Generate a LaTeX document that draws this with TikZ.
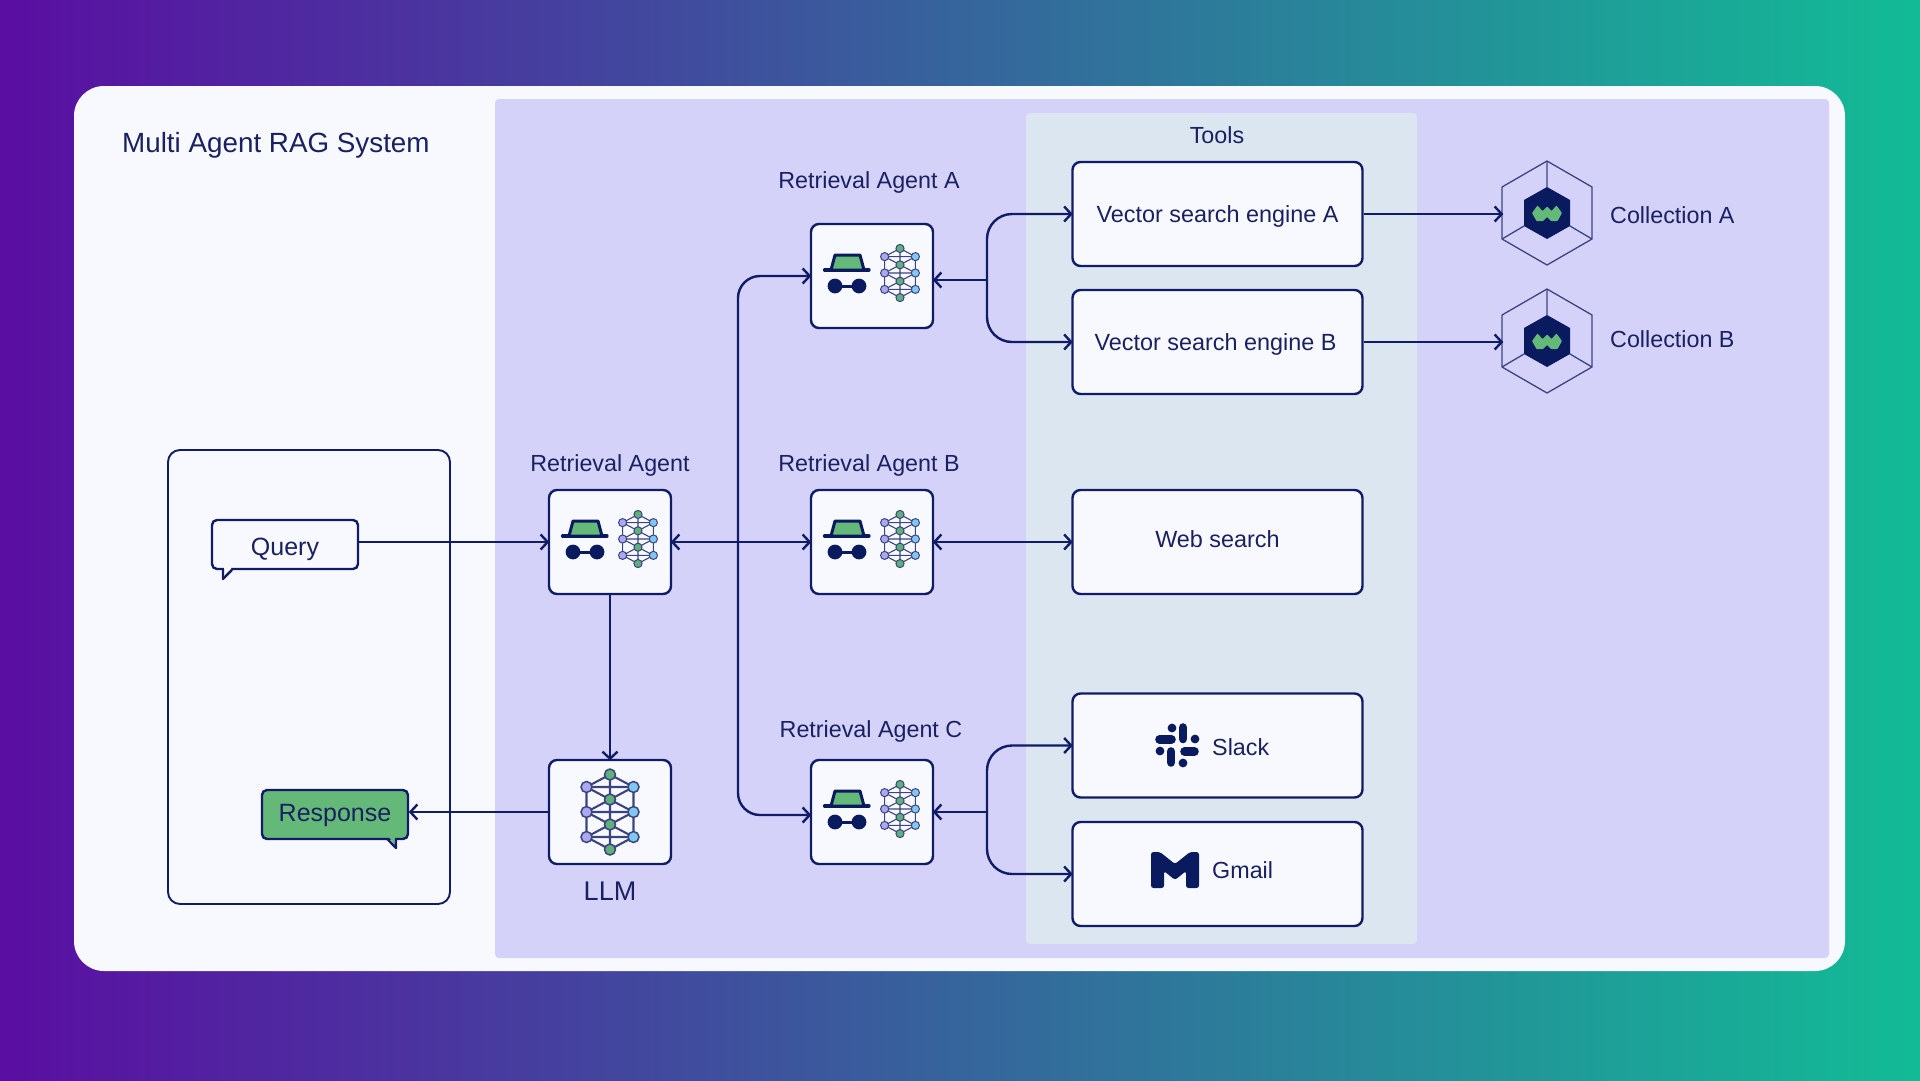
\documentclass[tikz,border=0pt]{standalone}
\usepackage{fontspec}
\setmainfont{Liberation Sans}
\usetikzlibrary{arrows.meta}
\definecolor{navy}{HTML}{111C66}
\definecolor{ink}{HTML}{1A2160}
\definecolor{deep}{HTML}{0A1A5E}
\definecolor{panel}{HTML}{F8F9FE}
\definecolor{lav}{HTML}{D5D2FA}
\definecolor{toolbg}{HTML}{DCE6F0}
\definecolor{grn}{HTML}{64B878}
\definecolor{np}{HTML}{ABA8F0}
\definecolor{nb}{HTML}{80C8F0}
\definecolor{ng}{HTML}{60B07C}
\definecolor{netl}{HTML}{3C4480}
\definecolor{bgl}{HTML}{5A0EA2}
\definecolor{bgm}{HTML}{39609F}
\definecolor{bgr}{HTML}{12BB96}
\newcommand{\bl}[2]{\raisebox{-#1pt}[0pt][0pt]{#2}}
\tikzset{
  x=1pt,y=-1pt,
  conn/.style={draw=navy,line width=2.4pt,shorten >=-1.5pt,arrows={-Straight Barb[length=7pt,width=15pt,line width=2.4pt]}},
  conn2/.style={draw=navy,line width=2.4pt,shorten >=-1.5pt,shorten <=-1.5pt,arrows={Straight Barb[length=7pt,width=15pt,line width=2.4pt]-Straight Barb[length=7pt,width=15pt,line width=2.4pt]}},
  plainconn/.style={draw=navy,line width=1.9pt},
  box/.style={draw=navy,line width=2.4pt,fill=panel,rounded corners=8pt,inner sep=0pt,text=ink,font=\fontsize{23.4}{27}\selectfont},
  agentbox/.style={box,minimum width=122pt,minimum height=104pt},
  toolbox/.style={box,minimum width=290pt,minimum height=104pt},
  bubble/.style={box,rounded corners=5pt,minimum width=146pt,minimum height=49pt},
  lbl/.style={inner sep=0pt,text=ink,font=\fontsize{23.3}{27}\selectfont},
  hexline/.style={draw=netl,line width=1.3pt,line join=round},
  agentglyph/.pic={
    \draw[deep,line width=3.2pt,line cap=round] (-47.5,-6) -- (-3,-6);
    \filldraw[fill=grn,draw=deep,line width=3pt,line join=round] (-37,-21) -- (-12,-21) -- (-8,-6) -- (-41,-6) -- cycle;
    \fill[deep] (-37,10) circle[radius=7.4];
    \fill[deep] (-13,10) circle[radius=7.4];
    \fill[deep] (-37,8.5) rectangle (-13,11.5);
    \netw{28}{-3}{.655}{1.1pt}{1pt}{6.2}
  }
}
\newcommand{\netw}[6]{%
  \begin{scope}[shift={(#1,#2)},scale=#3]
    \coordinate (nl1) at (-23.5,-25); \coordinate (nl2) at (-23.5,0); \coordinate (nl3) at (-23.5,25);
    \coordinate (nr1) at (23.5,-25); \coordinate (nr2) at (23.5,0); \coordinate (nr3) at (23.5,25);
    \coordinate (nc1) at (0,-37.5); \coordinate (nc2) at (0,-12.5); \coordinate (nc3) at (0,12.5); \coordinate (nc4) at (0,37.5);
    \draw[netl,line width=#4] (nl1)--(nl2)--(nl3) (nr1)--(nr2)--(nr3) (nc1)--(nc2)--(nc3)--(nc4)
      (nl1)--(nr1) (nl2)--(nr2) (nl3)--(nr3)
      (nl1)--(nc1)--(nr1) (nl1)--(nc2)--(nr1) (nl2)--(nc2)--(nr2)
      (nl2)--(nc3)--(nr2) (nl3)--(nc3)--(nr3) (nl3)--(nc4)--(nr3);
    \foreach \p in {nl1,nl2,nl3}{\filldraw[fill=np,draw=netl,line width=#5] (\p) circle[radius=#6];}
    \foreach \p in {nr1,nr2,nr3}{\filldraw[fill=nb,draw=netl,line width=#5] (\p) circle[radius=#6];}
    \foreach \p in {nc1,nc2,nc3,nc4}{\filldraw[fill=ng,draw=netl,line width=#5] (\p) circle[radius=#6];}
  \end{scope}}
\newcommand{\hexlogo}[2]{%
  \begin{scope}[shift={(#1,#2)}]
    \draw[hexline] (0,-52) -- (45,-26) -- (45,26) -- (0,52) -- (-45,26) -- (-45,-26) -- cycle;
    \draw[hexline] (0,-52) -- (0,-26) (-45,26) -- (-23,13) (45,26) -- (23,13);
    \fill[deep] (0,-26) -- (23,-13) -- (23,13) -- (0,26) -- (-23,13) -- (-23,-13) -- cycle;
    \fill[grn,rounded corners=.6pt] (-15,0) -- (-9.5,-7.5) -- (-4.5,-2) -- (0,-6.5) -- (4.5,-2) -- (9.5,-7.5) -- (15,0) -- (10.5,8) -- (4,8) -- (0,4) -- (-4,8) -- (-10.5,8) -- cycle;
  \end{scope}}
\begin{document}
\begin{tikzpicture}
\useasboundingbox (0,0) rectangle (1920,1080);
\shade[left color=bgl,middle color=bgm,right color=bgr] (0,0) rectangle (1920,1080);
\fill[panel,rounded corners=30pt] (74,86) rectangle (1845,971);
\fill[lav,rounded corners=4pt] (495,99) rectangle (1829,958);
\fill[toolbg,rounded corners=4pt] (1026,113) rectangle (1417,944);
\draw[plainconn,rounded corners=12pt] (168,450) rectangle (450,904);

\node[lbl,anchor=west,font=\fontsize{27.8}{32}\selectfont] (title) at (122,145) {Multi Agent RAG System};
\node[lbl] (toolsl) at (1217,135.5) {Tools};
\node[lbl] (la) at (869,182) {Retrieval Agent A};
\node[lbl] (lm) at (610,465) {Retrieval Agent};
\node[lbl] (lb) at (869,465) {Retrieval Agent B};
\node[lbl] (lc) at (871,731) {Retrieval Agent C};
\node[lbl,font=\fontsize{27}{32}\selectfont] (ll) at (610,891) {LLM};

\node[agentbox] (ag) at (610,542) {};
\node[agentbox] (agA) at (872,276) {};
\node[agentbox] (agB) at (872,542) {};
\node[agentbox] (agC) at (872,812) {};
\node[agentbox] (llm) at (610,812) {};
\pic at (ag.center) {agentglyph};
\pic at (agA.center) {agentglyph};
\pic at (agB.center) {agentglyph};
\pic at (agC.center) {agentglyph};
\netw{610}{812}{1}{2.1pt}{1.5pt}{5.5}

\node[toolbox] (engA) at (1217.5,214) {\bl{8.5}{Vector search engine A}};
\node[toolbox] (engB) at (1217.5,342) {\hspace*{-4pt}\bl{8.5}{Vector search engine B}};
\node[toolbox] (web) at (1217.5,542) {\bl{5.5}{Web search}};
\node[toolbox] (slack) at (1217.5,745.5) {};
\node[toolbox] (gmail) at (1217.5,874) {};
\node[lbl,anchor=west] (slackl) at (1212,747) {Slack};
\node[lbl,anchor=west] (gmaill) at (1212,870) {Gmail};

% Slack glyph
\begin{scope}[line cap=round,line width=8.6pt]
  \draw[deep] (1159.5,739.5) -- (1171.5,739.5);
  \draw[deep] (1183,727.5) -- (1183,739);
  \draw[deep] (1184.5,751.5) -- (1194.5,751.5);
  \draw[deep] (1171,751.5) -- (1171,762.5);
\end{scope}
\fill[deep] (1172,728) circle[radius=4.4];
\fill[deep] (1195,739) circle[radius=4.4];
\fill[deep] (1160,751) circle[radius=4.4];
\fill[deep] (1183,763) circle[radius=4.4];
% Gmail glyph
\fill[deep,rounded corners=2.5pt] (1151,852) -- (1160,852) -- (1175,864) -- (1190,852) -- (1199,852) -- (1199,888) -- (1186,888) -- (1186,871) -- (1175,880) -- (1164,871) -- (1164,888) -- (1151,888) -- cycle;

% Bubbles
\node[bubble,font=\fontsize{25}{30}\selectfont] (query) at (285,544.5) {\bl{11}{Query}};
\filldraw[fill=panel,draw=none] (224.2,567) -- (224.2,576) -- (231,570.2) -- (231,567) -- cycle;
\draw[navy,line width=2.4pt,line join=round] (223,569) -- (223,579) -- (232,569.8);
\node[bubble,fill=grn,font=\fontsize{25}{30}\selectfont] (resp) at (335,814.5) {\bl{6.5}{Response}};
\filldraw[fill=grn,draw=none] (388,836) -- (395,845) -- (395,836) -- cycle;
\draw[navy,line width=2.4pt,line join=round] (387,838.6) -- (396,848) -- (396,838.6);

% Collections
\node[inner sep=0pt,minimum width=90pt,minimum height=104pt] (colA) at (1547,214) {};
\node[inner sep=0pt,minimum width=90pt,minimum height=104pt] (colB) at (1547,342) {};
\hexlogo{1547}{213}
\hexlogo{1547}{341}
\node[lbl,anchor=west] (colAl) at (1610,215) {Collection A};
\node[lbl,anchor=west] (colBl) at (1610,339) {Collection B};

% Connectors
\draw[conn] (query.east |- ag.west) -- (ag.west);
\draw[conn2] (ag.east) -- (agB.west);
\draw[conn] (ag.south) -- (llm.north);
\draw[conn] (llm.west) -- ([xshift=1pt]resp.east |- llm.west);
\draw[conn2,rounded corners=22pt] (agA.west) -- (738,276) -- (738,815) -- ([yshift=-3pt]agC.west);
\draw[conn2] (agB.east) -- (web.west);

\coordinate (jA) at (987,280);
\coordinate (jC) at (987,812);
\draw[conn] (jA) -- ([yshift=-4pt]agA.east);
\draw[conn,rounded corners=25pt] (jA) -- (jA |- engA.west) -- (engA.west);
\draw[conn,rounded corners=25pt] (jA) -- (jA |- engB.west) -- (engB.west);
\draw[conn] (jC) -- (agC.east);
\draw[conn,rounded corners=25pt] (jC) -- (jC |- slack.west) -- (slack.west);
\draw[conn,rounded corners=25pt] (jC) -- (jC |- gmail.west) -- (gmail.west);
\draw[conn] (engA.east) -- (colA.west);
\draw[conn] (engB.east) -- (colB.west);
\end{tikzpicture}
\end{document}
